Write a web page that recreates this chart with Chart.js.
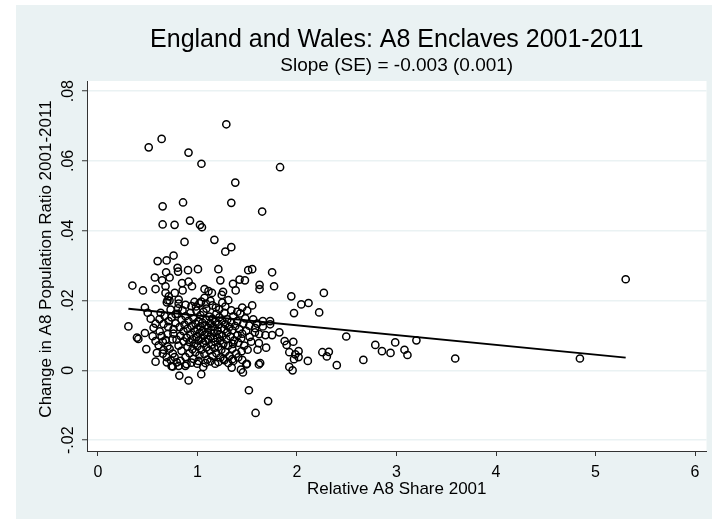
<!DOCTYPE html>
<html>
<head>
<meta charset="utf-8">
<script src="https://cdn.jsdelivr.net/npm/chart.js@4/dist/chart.umd.min.js"></script>
<style>
  html, body { margin: 0; padding: 0; background: #ffffff; }
  #wrap { width: 712px; height: 519px; }
</style>
</head>
<body>
<div id="wrap"><canvas id="chart" width="712" height="519"></canvas></div>
<script>
// relative A8 share 2001 (x) and change in population ratio (y)
const upperShare  = [1.29,0.64,0.51,0.91,1.04,1.83,1.38,0.65,0.855,1.34,1.65,0.65,0.77,0.925,1.025,1.045,0.87,1.17,1.28,1.34,0.60,0.69,0.76];
const upperChange = [0.0705,0.0663,0.0639,0.0624,0.0592,0.0582,0.0538,0.0470,0.0481,0.0480,0.0455,0.0418,0.0417,0.0429,0.0417,0.0410,0.0368,0.0374,0.0340,0.0353,0.0313,0.0315,0.0329];

const midShare = [
  0.80,0.805,0.905,1.005,1.21,1.23,1.357,1.384,0.685,0.572,
  0.645,0.72,0.346,0.452,0.579,0.679,0.845,0.911,0.945,0.851,
  0.679,0.712,0.772,0.699,0.811,1.071,1.111,1.145,1.257,1.244,
  1.071,1.038,1.085,0.472,0.985,1.185,1.423,1.477,1.51,1.55,
  1.75,1.77,1.624,1.624,1.943,2.043,2.116,1.45,2.27,2.223];
const midChange = [
  0.0294,0.0283,0.0287,0.0290,0.0290,0.0258,0.0248,0.0229,0.0281,0.0266,
  0.0258,0.0266,0.0243,0.0229,0.0233,0.0241,0.0250,0.0254,0.0241,0.0229,
  0.0222,0.0212,0.0222,0.0201,0.0203,0.0233,0.0227,0.0222,0.0225,0.0216,
  0.0208,0.0197,0.0191,0.0180,0.0183,0.0180,0.0260,0.0258,0.0287,0.0290,
  0.0281,0.0241,0.0245,0.0233,0.0212,0.0189,0.0193,0.0180,0.0222,0.0166];

const rightShare = [
  2.495,2.016,2.016,2.109,2.255,2.32,2.30,2.40,2.667,2.787,
  2.854,2.94,2.987,3.08,3.11,3.20,3.59,5.303,4.843];
const rightChange = [
  0.0097,0.0055,0.0038,0.0027,0.0052,0.0053,0.0040,0.0015,0.0030,0.0073,
  0.0055,0.0050,0.0080,0.0059,0.0044,0.0086,0.0034,0.0261,0.0034];

const leftShare = [
  0.306,0.392,0.406,0.472,0.559,0.579,0.619,0.486,0.579,0.652,
  0.592,0.579,0.692,0.818,0.911,1.038,1.058,0.811,0.719,0.692,
  0.811,0.805,0.705,0.758,0.699,0.652,0.752,0.732,0.792,0.878,
  0.998,1.178,1.27,1.35];
const leftChange = [
  0.0126,0.0094,0.0090,0.0107,0.0122,0.0134,0.0147,0.0061,0.0084,0.0082,
  0.0050,0.0025,0.0023,-0.0015,-0.0029,-0.0011,0.0010,0.0013,0.0200,0.0195,
  0.0191,0.0178,0.0125,0.0105,0.0069,0.0048,0.0048,0.0029,0.0023,0.0013,
  0.0019,0.0019,0.0029,0.0032];

const eastShare = [
  1.97,1.657,1.73,1.73,1.657,1.823,1.75,1.683,1.577,1.524,
  1.617,1.604,1.69,1.876,1.896,1.963,1.923,1.983,1.97,1.923,
  1.956,1.63,1.497,1.45,1.437,1.457,1.344,1.504,1.444,1.357,
  1.404,1.45,1.517,1.71,1.584,1.49,1.617,0.752];
const eastChange = [
  0.0164,0.0141,0.0141,0.0132,0.0126,0.0109,0.0101,0.0101,0.0109,0.0096,
  0.0078,0.0059,0.0065,0.0084,0.0073,0.0082,0.0052,0.0046,0.0032,0.0010,
  0.0000,0.0021,0.0019,0.0030,0.0002,-0.0006,0.0008,0.0059,0.0055,0.0076,
  0.0101,0.0105,-0.0057,-0.0088,-0.0122,0.0017,0.0017,0.0011];

const coreShare = [
  0.74,0.76,0.78,0.79,0.80,0.81,0.82,0.83,0.84,0.84,
  0.85,0.86,0.86,0.87,0.88,0.88,0.89,0.90,0.90,0.91,
  0.92,0.92,0.93,0.93,0.94,0.95,0.95,0.96,0.96,0.97,
  0.97,0.98,0.98,0.99,0.99,1.00,1.00,1.01,1.01,1.02,
  1.02,1.03,1.03,1.04,1.04,1.05,1.05,1.06,1.06,1.07,
  1.07,1.08,1.08,1.09,1.09,1.10,1.10,1.11,1.11,1.12,
  1.12,1.13,1.13,1.14,1.14,1.15,1.15,1.16,1.16,1.17,
  1.17,1.18,1.18,1.19,1.19,1.20,1.20,1.21,1.21,1.22,
  1.22,1.23,1.23,1.24,1.24,1.25,1.25,1.26,1.27,1.27,
  1.28,1.28,1.29,1.30,1.30,1.31,1.32,1.32,1.33,1.34,
  1.35,1.35,1.36,1.37,1.38,1.39,1.40,1.41,1.42,1.43,
  1.44,1.46,1.47,1.48,1.49,1.52,1.54,1.56,1.58,1.60,
  1.62,0.83,0.89,0.94,1.01,1.08,1.13,1.21,1.26,1.31,
  1.36,1.41,0.88,0.94,1.02,1.09,1.15,1.22,1.28,1.34,
  1.40,1.13,0.97,1.25,1.31,1.50,1.55,0.62,0.64,0.66,
  0.67,0.68,0.70,0.71,0.72,0.73,0.75,0.77,0.78,0.63,
  0.61,0.66,0.69,0.74,0.55,0.53,0.50];
const coreChange = [
  0.0152,0.0118,0.0135,0.0088,0.0162,0.0071,0.0124,0.0099,0.0145,0.0056,
  0.0172,0.0112,0.0083,0.0131,0.0038,0.0155,0.0094,0.0068,0.0119,0.0142,
  0.0081,0.0049,0.0165,0.0103,0.0127,0.0061,0.0089,0.0149,0.0033,0.0112,
  0.0076,0.0134,0.0052,0.0096,0.0171,0.0118,0.0069,0.0141,0.0085,0.0043,
  0.0107,0.0158,0.0126,0.0091,0.0059,0.0136,0.0113,0.0078,0.0168,0.0101,
  0.0047,0.0129,0.0084,0.0145,0.0066,0.0109,0.0031,0.0122,0.0088,0.0154,
  0.0057,0.0097,0.0134,0.0073,0.0116,0.0041,0.0148,0.0092,0.0125,0.0064,
  0.0107,0.0139,0.0081,0.0162,0.0049,0.0114,0.0093,0.0131,0.0068,0.0103,
  0.0152,0.0085,0.0037,0.0121,0.0059,0.0143,0.0098,0.0076,0.0118,0.0165,
  0.0053,0.0132,0.0089,0.0109,0.0146,0.0071,0.0124,0.0041,0.0097,0.0138,
  0.0062,0.0115,0.0155,0.0086,0.0127,0.0048,0.0141,0.0079,0.0118,0.0163,
  0.0092,0.0134,0.0071,0.0149,0.0113,0.0128,0.0082,0.0146,0.0121,0.0134,
  0.0104,0.0027,0.0018,0.0022,0.0027,0.0021,0.0026,0.0024,0.0033,0.0021,
  0.0027,0.0037,0.0188,0.0184,0.0192,0.0177,0.0186,0.0175,0.0183,0.0172,
  0.0168,0.0199,0.0196,0.0194,0.0201,0.0171,0.0186,0.0112,0.0098,0.0133,
  0.0156,0.0087,0.0104,0.0141,0.0062,0.0174,0.0089,0.0038,0.0161,0.0165,
  0.0072,0.0059,0.0038,0.0012,0.0098,0.0148,0.0165];

// fitted line, as printed on the chart
const fitIntercept = 0.0185;
const fitSlope = -0.0028;

const xTicks = [0, 1, 2, 3, 4, 5, 6];
const yTicks = [-0.02, 0, 0.02, 0.04, 0.06, 0.08];
const yTickLabels = ["-.02", "0", ".02", ".04", ".06", ".08"];

const titleText = "England and Wales: A8 Enclaves 2001-2011";
const subtitleText = "Slope (SE) = -0.003 (0.001)";
const xTitle = "Relative A8 Share 2001";
const yTitle = "Change in A8 Population Ratio 2001-2011";

const outerColor = "#EAF2F3";
const fontFamily = "'Liberation Sans', Arial, Helvetica, sans-serif";

const allShare = [].concat(upperShare, midShare, rightShare, leftShare, eastShare, coreShare);
const allChange = [].concat(upperChange, midChange, rightChange, leftChange, eastChange, coreChange);
const points = allShare.map((x, i) => ({ x: x, y: allChange[i] }));

const xMin = Math.min(...allShare);
const xMax = Math.max(...allShare);
const fitLine = [
  { x: xMin, y: fitIntercept + fitSlope * xMin },
  { x: xMax, y: fitIntercept + fitSlope * xMax }
];

const stataFrame = {
  id: "stataFrame",
  beforeDraw(chart) {
    const { ctx, chartArea: a } = chart;
    ctx.save();
    ctx.fillStyle = "#ffffff";
    ctx.fillRect(0, 0, chart.width, chart.height);
    ctx.fillStyle = outerColor;
    ctx.fillRect(16, 5, chart.width - 16, chart.height - 5);
    ctx.fillStyle = "#ffffff";
    ctx.fillRect(a.left, a.top, a.right - a.left, a.bottom - a.top);
    ctx.restore();
  },
  afterDraw(chart) {
    const { ctx, chartArea: a } = chart;
    const yScale = chart.scales.y;
    const midX = (a.left + a.right) / 2;
    ctx.save();
    ctx.fillStyle = "#000000";
    ctx.textAlign = "center";
    ctx.textBaseline = "middle";

    ctx.font = "25px " + fontFamily;
    ctx.fillText(titleText, midX, 40);
    ctx.font = "19px " + fontFamily;
    ctx.fillText(subtitleText, midX, 66);

    ctx.font = "17px " + fontFamily;
    ctx.fillText(xTitle, midX, 489);

    ctx.save();
    ctx.translate(46, 259);
    ctx.rotate(-Math.PI / 2);
    ctx.fillText(yTitle, 0, 0);
    ctx.restore();

    // rotated y tick labels
    ctx.font = "16px " + fontFamily;
    yTicks.forEach((v, i) => {
      const py = yScale.getPixelForValue(v);
      ctx.save();
      ctx.translate(69, py);
      ctx.rotate(-Math.PI / 2);
      ctx.fillText(yTickLabels[i], 0, 0);
      ctx.restore();
    });

    ctx.restore();
  }
};

new Chart(document.getElementById("chart"), {
  type: "scatter",
  data: {
    datasets: [
      {
        type: "line",
        data: fitLine,
        borderColor: "#000000",
        borderWidth: 2,
        pointRadius: 0,
        fill: false,
        order: 0
      },
      {
        data: points,
        pointRadius: 3.6,
        pointBorderWidth: 1.5,
        borderColor: "#000000",
        backgroundColor: "rgba(0,0,0,0)",
        order: 1
      }
    ]
  },
  options: {
    responsive: false,
    animation: false,
    devicePixelRatio: 1,
    layout: { padding: { top: 81, left: 0, right: 0, bottom: 0 } },
    plugins: {
      legend: { display: false },
      tooltip: { enabled: false }
    },
    scales: {
      x: {
        type: "linear",
        min: -0.11,
        max: 6.115,
        afterBuildTicks: s => { s.ticks = xTicks.map(v => ({ value: v })); },
        afterFit: s => { s.height = 68; },
        ticks: {
          color: "#000000",
          font: { size: 16, family: fontFamily },
          padding: 7,
          maxRotation: 0,
          callback: v => String(v)
        },
        grid: {
          drawOnChartArea: false,
          drawTicks: true,
          tickLength: 5,
          tickColor: "#333333",
          tickWidth: 1
        },
        border: { display: true, color: "#333333", width: 1 }
      },
      y: {
        type: "linear",
        min: -0.0231,
        max: 0.0829,
        afterBuildTicks: s => { s.ticks = yTicks.map(v => ({ value: v })); },
        afterFit: s => { s.width = 87; },
        ticks: { display: false },
        grid: {
          color: outerColor,
          lineWidth: 1.5,
          drawTicks: true,
          tickLength: 5,
          tickColor: "#333333",
          tickWidth: 1
        },
        border: { display: true, color: "#333333", width: 1 }
      }
    }
  },
  plugins: [stataFrame]
});
</script>
</body>
</html>
